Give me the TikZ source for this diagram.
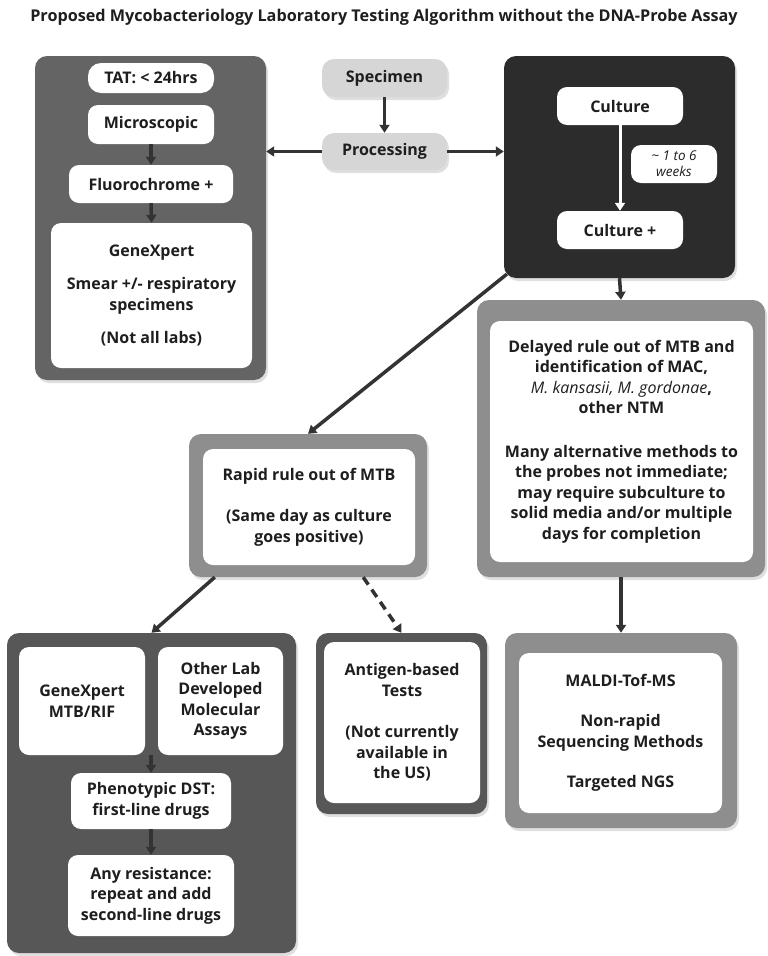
\documentclass[tikz,border=0pt]{standalone}
\usepackage{fontspec}
\setmainfont{Open Sans}
\usetikzlibrary{arrows.meta,shadows}
\definecolor{inkblack}{HTML}{1E1E1E}
\definecolor{arrowgray}{HTML}{333333}
\definecolor{smeargray}{HTML}{646464}
\definecolor{culturegray}{HTML}{2C2C2C}
\definecolor{midgray}{HTML}{8E8E8E}
\definecolor{molgray}{HTML}{575757}
\definecolor{lightgray}{HTML}{D6D6D6}

\begin{document}
\begin{tikzpicture}[x=1pt,y=-1pt]
\tikzstyle{every node}+=[inner sep=0pt, align=center, text=inkblack, font=\bfseries\fontsize{16}{20.5}\selectfont]
\tikzstyle{outerbox}=[rounded corners=12pt, drop shadow={opacity=0.25, shadow xshift=2pt, shadow yshift=-3pt}]
\tikzstyle{whitebox}=[fill=white, rounded corners=10pt]
\tikzstyle{flow}=[line width=3.5pt, draw=arrowgray, -{Triangle[width=10pt,length=8pt]}]
\useasboundingbox [fill=white] (0,0) rectangle (768,956);
\node (title) at (384,17) {\fontsize{16.2}{18}\selectfont Proposed Mycobacteriology Laboratory Testing Algorithm without the DNA-Probe Assay};
\node [outerbox, fill=smeargray, minimum width=231pt, minimum height=324pt] (smearbox) at (150.5,218) {};
\node [whitebox, rounded corners=13pt, minimum width=126pt, minimum height=30pt] (tat) at (151,78) {TAT: \textless{} 24hrs};
\node [whitebox, minimum width=126pt, minimum height=39pt] (micro) at (151,124.5) {Microscopic};
\node [whitebox, minimum width=164pt, minimum height=38pt] (fluoro) at (151,184) {Fluorochrome +};
\node [whitebox, minimum width=201pt, minimum height=145pt] (genexpert) at (151.5,295.5) {GeneXpert\\[13pt]Smear +/- respiratory\\specimens\\[13pt](Not all labs)};
\node [outerbox, fill=lightgray, minimum width=125pt, minimum height=38pt] (specimen) at (384.5,78) {Specimen};
\node [outerbox, fill=lightgray, minimum width=125pt, minimum height=37pt] (processing) at (384.5,151.5) {Processing};
\node [outerbox, fill=culturegray, minimum width=231pt, minimum height=222pt] (culturebox) at (619.5,167) {};
\node [whitebox, minimum width=126pt, minimum height=38pt] (culture) at (620,106) {Culture};
\node [whitebox, minimum width=126pt, minimum height=38pt] (culturepos) at (620,230) {Culture +};
\node [whitebox, minimum width=86pt, minimum height=38pt, font=\mdseries\itshape\fontsize{13.5}{16}\selectfont] (weeks) at (674,164) {\textasciitilde{} 1 to 6\\weeks};
\node [outerbox, fill=midgray, minimum width=288pt, minimum height=277pt] (delayedbox) at (621,438.5) {};
\node [whitebox, minimum width=263pt, minimum height=241pt] (delayed) at (621.5,441.5) {Delayed rule out of MTB and\\identification of MAC,\\{\mdseries\itshape M. kansasii, M. gordonae},\\other NTM\\[23pt]Many alternative methods to\\the probes not immediate;\\may require subculture to\\solid media and/or multiple\\days for completion};
\node [outerbox, fill=midgray, minimum width=238pt, minimum height=143pt] (rapidbox) at (308,505.5) {};
\node [whitebox, minimum width=212pt, minimum height=116pt] (rapid) at (309,507) {Rapid rule out of MTB\\[21pt](Same day as culture\\goes positive)};
\node [outerbox, fill=molgray, minimum width=289pt, minimum height=320pt] (molbox) at (151.5,793) {};
\node [whitebox, minimum width=126pt, minimum height=108pt] (xpert) at (82,701) {GeneXpert\\MTB/RIF};
\node [whitebox, minimum width=125pt, minimum height=108pt] (otherlab) at (220.5,701) {Other Lab\\Developed\\Molecular\\Assays};
\node [whitebox, minimum width=160pt, minimum height=56pt] (pheno) at (151,801) {Phenotypic DST:\\first-line drugs};
\node [whitebox, minimum width=166pt, minimum height=81pt] (resist) at (151,895.5) {Any resistance:\\repeat and add\\second-line drugs};
\node [outerbox, fill=molgray, minimum width=171pt, minimum height=181pt] (antigenbox) at (401.5,723.5) {};
\node [whitebox, minimum width=156pt, minimum height=161pt] (antigen) at (402,722.5) {Antigen-based\\Tests\\[21pt](Not currently\\available in\\the US)};
\node [outerbox, fill=midgray, minimum width=232pt, minimum height=195pt] (maldibox) at (621,730.5) {};
\node [whitebox, minimum width=203pt, minimum height=160pt] (maldi) at (620.5,733) {MALDI-Tof-MS\\[20pt]Non-rapid\\Sequencing Methods\\[20pt]Targeted NGS};
\draw [flow] (specimen.south) -- (processing.north);
\draw [flow] (processing.west) -- (processing.west -| smearbox.east);
\draw [flow] (processing.east) -- (processing.east -| culturebox.west);
\draw [flow] (micro.south) -- (fluoro.north);
\draw [flow] (fluoro.south) -- (genexpert.north);
\draw [flow, draw=white, line width=3pt] (culture.south) -- (culturepos.north);
\draw [flow] (culturebox.south) -- (delayedbox.north);
\draw [flow] ([xshift=3pt,yshift=4pt]culturebox.south west) -- (rapidbox.north);
\draw [flow] (delayedbox.south) -- (maldibox.north);
\draw [flow] ([xshift=26pt]rapidbox.south west) -- (molbox.north);
\draw [flow, dash pattern=on 9pt off 6pt] ([xshift=-64pt]rapidbox.south east) -- (antigenbox.north);
\draw [flow] (pheno.north |- xpert.south) -- (pheno.north);
\draw [flow] (pheno.south) -- (resist.north);
\end{tikzpicture}
\end{document}
